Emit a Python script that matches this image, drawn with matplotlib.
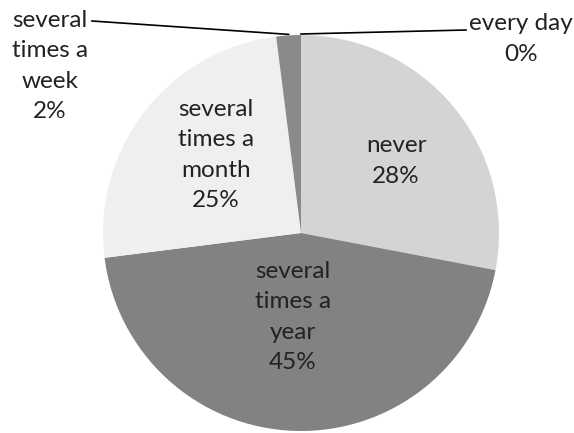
import numpy as np
import matplotlib
matplotlib.use('Agg')
import matplotlib.pyplot as plt

# Data
categories = ['every day', 'never', 'several\ntimes a\nyear', 'several\ntimes a\nmonth', 'several\ntimes a\nweek']
percents = [0, 28, 45, 25, 2]
colors = ['#a0a0a0', '#d4d4d4', '#828282', '#efefef', '#8a8a8a']

W, H = 574, 433
fig = plt.figure(figsize=(W / 100, H / 100), dpi=100)
ax = fig.add_axes([0, 0, 1, 1])

cx, cy, r = 301, H - 233, 198
wedges, _ = ax.pie(percents, colors=colors, startangle=90, counterclock=False,
                   center=(cx, cy), radius=r, wedgeprops=dict(linewidth=0),
                   frame=True)
ax.set_xlim(0, W)
ax.set_ylim(0, H)
ax.set_aspect('equal')
ax.axis('off')

font = dict(family='Lato', fontsize=17.5, color='#222222', ha='center', va='center',
            linespacing=1.56)

# inside labels
inside = {1: (396, 161), 2: (293, 317), 3: (216, 155)}
for i, (x, y) in inside.items():
    ax.text(x, H - y, f'{categories[i]}\n{percents[i]}%', **font)

# outside labels with leader lines
ax.text(50, H - 66, f'{categories[4]}\n{percents[4]}%', **font)
ax.text(521, H - 39, f'{categories[0]}\n{percents[0]}%', **font)

def edge_point(w):
    ang = np.deg2rad((w.theta1 + w.theta2) / 2)
    return cx + r * np.cos(ang), cy + r * np.sin(ang)

wx, wy = edge_point(wedges[4])
ax.plot([92, wx], [H - 21, wy + 1], color='black', lw=1.2)
ex, ey = edge_point(wedges[0])
ax.plot([ex, 466], [ey + 1, H - 30], color='black', lw=1.2)

fig.savefig('out.png', dpi=100)
